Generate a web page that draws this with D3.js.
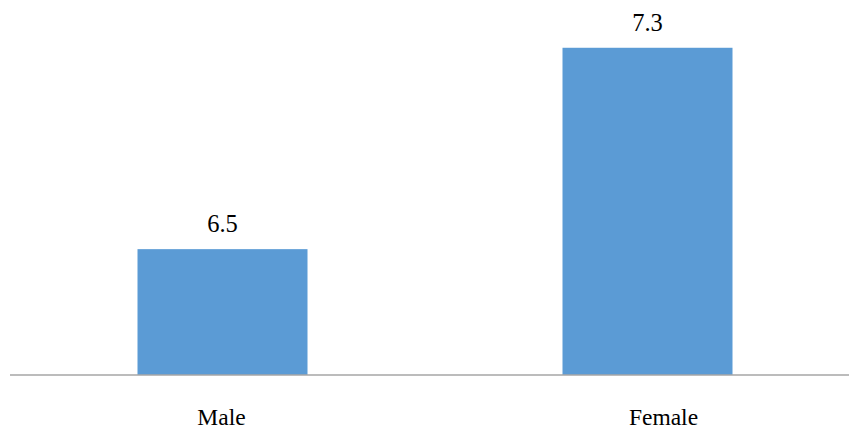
<!DOCTYPE html>
<html>
<head>
<meta charset="utf-8">
<script src="https://cdn.jsdelivr.net/npm/d3@7/dist/d3.min.js"></script>
<style>
  html, body { margin: 0; padding: 0; background: #fff; }
  svg { display: block; }
</style>
</head>
<body>
<svg id="chart" width="849" height="432"></svg>
<script>
// Average score by gender
const categories = ["Male", "Female"];
const values = [6.5, 7.3];
const valueLabels = ["6.5", "7.3"];

const W = 849, H = 432;
const FONT = '"Times New Roman", "Tinos", "Liberation Serif", serif';
const svg = d3.select("#chart");

const x = d3.scaleBand()
  .domain(categories)
  .range([10, 860])
  .paddingInner(0.6)
  .paddingOuter(0.3);

const y = d3.scaleLinear()
  .domain([6, 7.4])
  .range([375, 22.6]);

// bars
svg.append("g")
  .selectAll("rect")
  .data(categories)
  .join("rect")
  .attr("x", d => x(d))
  .attr("width", x.bandwidth())
  .attr("y", (d, i) => y(values[i]))
  .attr("height", (d, i) => y(6) - y(values[i]))
  .attr("fill", "#5B9BD5");

// value labels above bars
svg.append("g")
  .selectAll("text")
  .data(categories)
  .join("text")
  .attr("x", d => x(d) + x.bandwidth() / 2)
  .attr("y", (d, i) => y(values[i]) - 17)
  .attr("text-anchor", "middle")
  .attr("fill", "#000")
  .style("font-family", FONT)
  .style("font-size", "24.5px")
  .text((d, i) => valueLabels[i]);

// baseline
svg.append("line")
  .attr("x1", 10).attr("x2", W)
  .attr("y1", y(6)).attr("y2", y(6))
  .attr("stroke", "#A6A6A6")
  .attr("stroke-width", 1.5);

// category labels
const labelShift = [-1, 16];
svg.append("g")
  .selectAll("text")
  .data(categories)
  .join("text")
  .attr("x", (d, i) => x(d) + x.bandwidth() / 2 + labelShift[i])
  .attr("y", 425)
  .attr("text-anchor", "middle")
  .attr("fill", "#000")
  .style("font-family", FONT)
  .style("font-size", "23.5px")
  .text(d => d);
</script>
</body>
</html>
